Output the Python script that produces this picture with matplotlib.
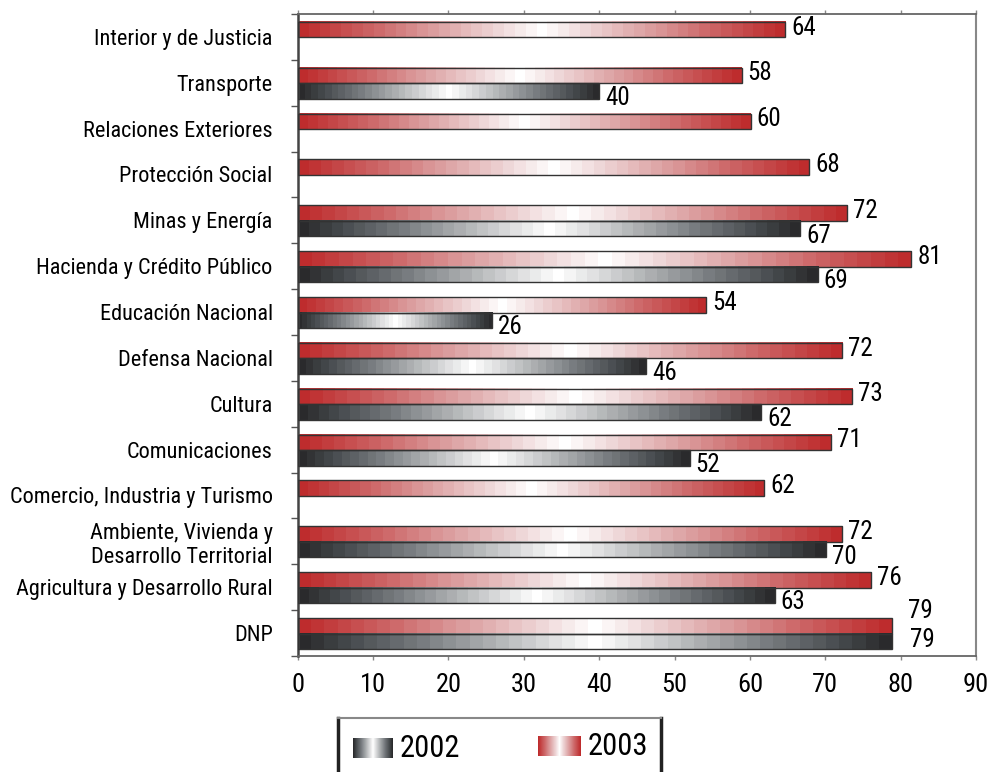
import numpy as np
import matplotlib
matplotlib.use("Agg")
import matplotlib.pyplot as plt
from matplotlib.colors import LinearSegmentedColormap

plt.rcParams['font.family'] = ['Roboto Condensed', 'DejaVu Sans']

categories = [
    "Interior y de Justicia", "Transporte", "Relaciones Exteriores",
    "Protección Social", "Minas y Energía", "Hacienda y Crédito Público",
    "Educación Nacional", "Defensa Nacional", "Cultura", "Comunicaciones",
    "Comercio, Industria y Turismo", "Ambiente, Vivienda y\nDesarrollo Territorial",
    "Agricultura y Desarrollo Rural", "DNP",
]
values_2003 = [64.7, 58.9, 60.1, 67.9, 72.9, 81.4, 54.2, 72.2, 73.6, 70.8, 61.9, 72.2, 76.1, 78.8]
values_2002 = [None, 40.0, None, None, 66.7, 69.0, 25.8, 46.2, 61.5, 52.0, None, 70.1, 63.3, 78.8]
labels_2003 = ["64", "58", "60", "68", "72", "81", "54", "72", "73", "71", "62", "72", "76", "79"]
labels_2002 = [None, "40", None, None, "67", "69", "26", "46", "62", "52", None, "70", "63", "79"]
xticks = [0, 10, 20, 30, 40, 50, 60, 70, 80, 90]
series_names = ["2002", "2003"]

red_cmap = LinearSegmentedColormap.from_list(
    "redgrad", [(0.0, "#be2c2d"), (0.3, "#cd6768"), (0.55, "#dc9fa0"),
                (0.8, "#edd3d4"), (1.0, "#ffffff")])
gray_cmap = LinearSegmentedColormap.from_list(
    "graygrad", [(0.0, "#2a2a2c"), (0.15, "#464a4d"), (0.4, "#777b7f"),
                 (0.6, "#a4a7a9"), (0.8, "#d2d3d4"), (1.0, "#ffffff")])

NCELL = 45
grad = (1 - np.abs(np.linspace(-1, 1, NCELL)))[None, :]

fig = plt.figure(figsize=(9.93, 7.72), dpi=100)
ax = fig.add_axes([297.7 / 993, 1 - 656 / 772, (976 - 297.7) / 993, (656 - 14) / 772])

y = np.arange(len(categories))
h = 0.34

idx3 = [i for i, v in enumerate(values_2003) if v is not None]
idx2 = [i for i, v in enumerate(values_2002) if v is not None]

bars3 = ax.barh([y[i] - 0.16 for i in idx3], [values_2003[i] for i in idx3], height=h,
                facecolor="none", edgecolor="#333333", linewidth=1.0, zorder=3)
bars2 = ax.barh([y[i] + 0.18 for i in idx2], [values_2002[i] for i in idx2], height=h,
                facecolor="none", edgecolor="#333333", linewidth=1.0, zorder=3)

for bars, cmap in ((bars3, red_cmap), (bars2, gray_cmap)):
    for p in bars:
        x0, y0, w, hh = p.get_x(), p.get_y(), p.get_width(), p.get_height()
        ax.imshow(grad, cmap=cmap, vmin=0, vmax=1, extent=[x0, x0 + w, y0 + hh, y0],
                  aspect="auto", interpolation="nearest", zorder=2)

PX = 0.72  # points per pixel
for k, p in zip(idx3, bars3):
    dx, dy = 6, 2
    if categories[k] == "DNP":
        dx, dy = 16, 15
    ax.annotate(labels_2003[k], xy=(p.get_x() + p.get_width(), p.get_y() + p.get_height() / 2),
                xytext=(dx * PX, dy * PX), textcoords="offset points",
                ha="left", va="center", fontsize=18, zorder=4)
for k, p in zip(idx2, bars2):
    dx, dy = 6, -7
    if categories[k] == "DNP":
        dx, dy = 18, 1
    ax.annotate(labels_2002[k], xy=(p.get_x() + p.get_width(), p.get_y() + p.get_height() / 2),
                xytext=(dx * PX, dy * PX), textcoords="offset points",
                ha="left", va="center", fontsize=18, zorder=4)

ax.set_xlim(0, 90)
ax.set_ylim(len(categories) - 0.5, -0.5)
ax.set_xticks(xticks)
ax.set_xticklabels([str(t) for t in xticks])
ax.tick_params(axis="x", which="major", top=True, direction="out", length=3, width=1,
               color="#888888", pad=9, labelsize=19)
ax.set_yticks(y)
ax.set_yticklabels(categories, fontsize=16)
ax.set_yticks(np.arange(-0.5, len(categories), 1), minor=True)
ax.tick_params(axis="y", which="major", length=0, pad=18)
ax.tick_params(axis="y", which="minor", length=5, width=1, color="#555555")

for s in ("top", "bottom"):
    ax.spines[s].set_color("#666666")
    ax.spines[s].set_linewidth(1.3)
ax.spines["left"].set_color("#444444")
ax.spines["left"].set_linewidth(1.8)
ax.spines["right"].set_color("#888888")
ax.spines["right"].set_linewidth(1.5)

# legend box
lax = fig.add_axes([338 / 993, -0.01, (661 - 338) / 993, (772 - 718) / 772 + 0.01])
lax.set_xticks([])
lax.set_yticks([])
lax.spines["bottom"].set_visible(False)
lax.spines["top"].set_color("#888888")
lax.spines["top"].set_linewidth(1.5)
for s in ("left", "right"):
    lax.spines[s].set_color("#222222")
    lax.spines[s].set_linewidth(2.5)
lgrad = (1 - np.abs(np.linspace(-1, 1, 41)))[None, :]
lax.imshow(lgrad, cmap=gray_cmap, vmin=0, vmax=1, extent=[15, 55, 14, 34], aspect="auto")
lax.text(62, 23, series_names[0], fontsize=22, va="center", ha="left")
lax.imshow(lgrad, cmap=red_cmap, vmin=0, vmax=1, extent=[200, 243, 16, 36], aspect="auto")
lax.text(250, 25, series_names[1], fontsize=22, va="center", ha="left")
lax.set_xlim(0, 323)
lax.set_ylim(-8, 54)

fig.savefig("out.png", dpi=100)
